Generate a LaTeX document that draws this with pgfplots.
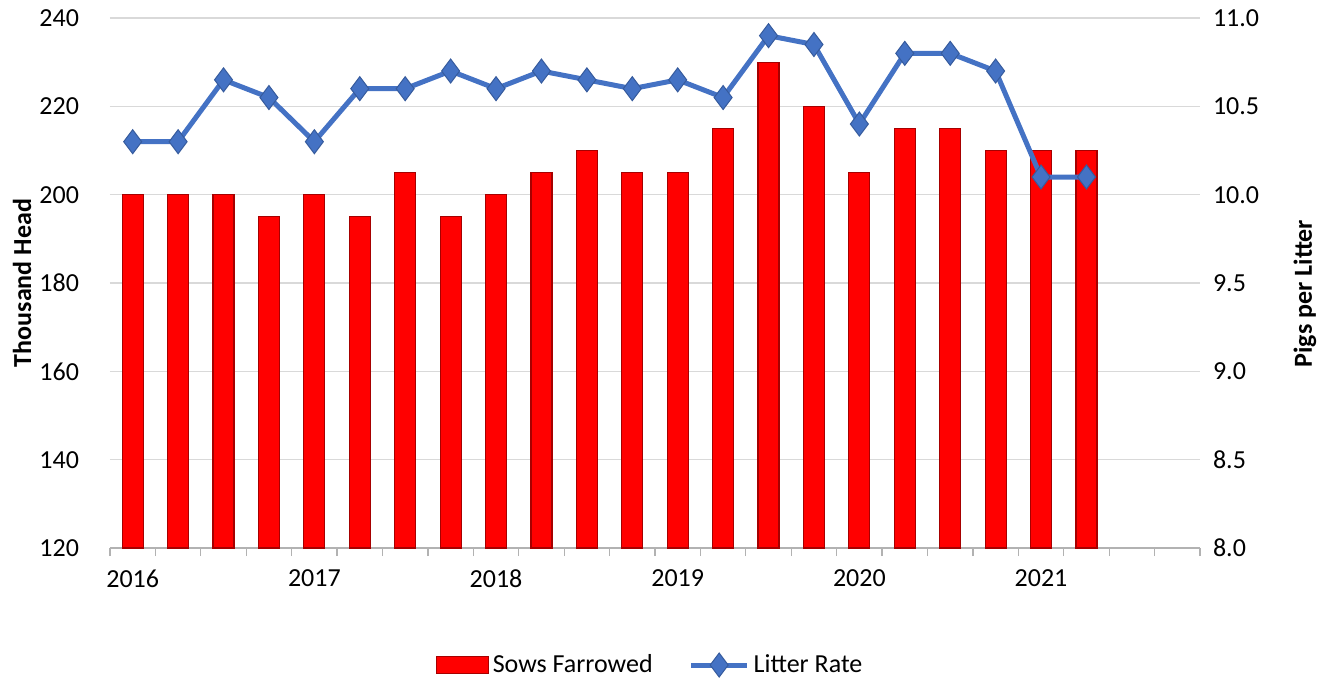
\documentclass[border=0pt]{standalone}
\usepackage{fontspec}
\setmainfont{Carlito}
\usepackage{pgfplots}
\pgfplotsset{compat=1.18}

\definecolor{sowred}{RGB}{255,0,0}
\definecolor{litterblue}{RGB}{68,114,196}
\definecolor{gridgray}{RGB}{217,217,217}
\newcommand\chartfont{\fontsize{13}{15.6}\selectfont}

\pgfplotsset{
  base/.style={
    scale only axis, width=545pt, height=265pt,
    xmin=-0.5, xmax=23.5,
    /pgf/number format/assume math mode=true,
    tick label style={font=\chartfont, black},
    label style={font=\chartfont\bfseries},
    ytick style={draw=none},
    y axis line style={draw=none},
  },
  sow legend/.style={
    legend image code/.code={\draw[##1] (0pt,-4.2pt) rectangle (26pt,4.2pt);}
  },
  litter legend/.style={
    legend image code/.code={\draw[mark repeat=2,mark phase=2,##1] plot coordinates {(0pt,0pt) (14pt,0pt) (28pt,0pt)};}
  },
}

\begin{document}
\begin{tikzpicture}
% sows farrowed, thousand head (left axis)
\begin{axis}[base,
  ymin=120, ymax=240, ytick={120,140,...,240},
  axis y line*=left,
  axis x line*=bottom, x axis line style={draw=gray!60, line width=0.6pt},
  ymajorgrids, grid style={gridgray, line width=0.6pt},
  yticklabel style={xshift=-8pt},
  xtick={-0.5,0.5,...,23.5}, xticklabels={},
  x tick style={draw=gray!60, line width=0.6pt}, tick align=outside, major tick length=4pt,
  extra x ticks={0,4,8,12,16,20},
  extra x tick labels={2016,2017,2018,2019,2020,2021},
  extra x tick style={major tick length=0pt, grid=none, xticklabel style={yshift=-7.5pt}},
  ybar, bar width=10.5pt,
  ylabel={Thousand Head},
  ylabel style={at={(axis description cs:-0.0807,0.5)}, anchor=center},
]
\addplot[fill=sowred, draw=red!65!black, line width=0.6pt] coordinates {
  (0,200) (1,200) (2,200) (3,195) (4,200) (5,195) (6,205) (7,195)
  (8,200) (9,205) (10,210) (11,205) (12,205) (13,215) (14,230) (15,220)
  (16,205) (17,215) (18,215) (19,210) (20,210) (21,210)
};
\coordinate (bbsw) at (axis description cs:-0.1009,-0.2547);
\coordinate (bbne) at (axis description cs:1.1193,1.034);
\end{axis}
% litter rate, pigs per litter (right axis)
\begin{axis}[base,
  ymin=8, ymax=11, ytick={8,8.5,...,11},
  axis y line*=right, axis x line=none,
  yticklabel style={xshift=3pt, /pgf/number format/.cd, fixed, fixed zerofill, precision=1},
  ylabel={Pigs per Litter},
  ylabel style={at={(axis description cs:1.0963,0.48)}, anchor=center},
  legend style={at={(axis description cs:0.4963,-0.2208)}, anchor=center,
    draw=none, font=\chartfont, legend columns=2,
    /tikz/every even column/.append style={column sep=16pt}},
  legend cell align=left,
]
\addlegendimage{fill=sowred, draw=red!65!black, line width=0.6pt, sow legend}
\addlegendentry{Sows Farrowed}
\addplot[litterblue, line width=2.5pt, mark=diamond*, mark size=6pt,
  mark options={fill=litterblue, draw=litterblue!80!black, line width=0.5pt},
  litter legend]
coordinates {
  (0,10.3) (1,10.3) (2,10.65) (3,10.55) (4,10.3) (5,10.6) (6,10.6) (7,10.7)
  (8,10.6) (9,10.7) (10,10.65) (11,10.6) (12,10.65) (13,10.55) (14,10.9) (15,10.85)
  (16,10.4) (17,10.8) (18,10.8) (19,10.7) (20,10.1) (21,10.1)
};
\addlegendentry{Litter Rate}
\end{axis}
\pgfresetboundingbox
\useasboundingbox (bbsw) rectangle (bbne);
\end{tikzpicture}
\end{document}
